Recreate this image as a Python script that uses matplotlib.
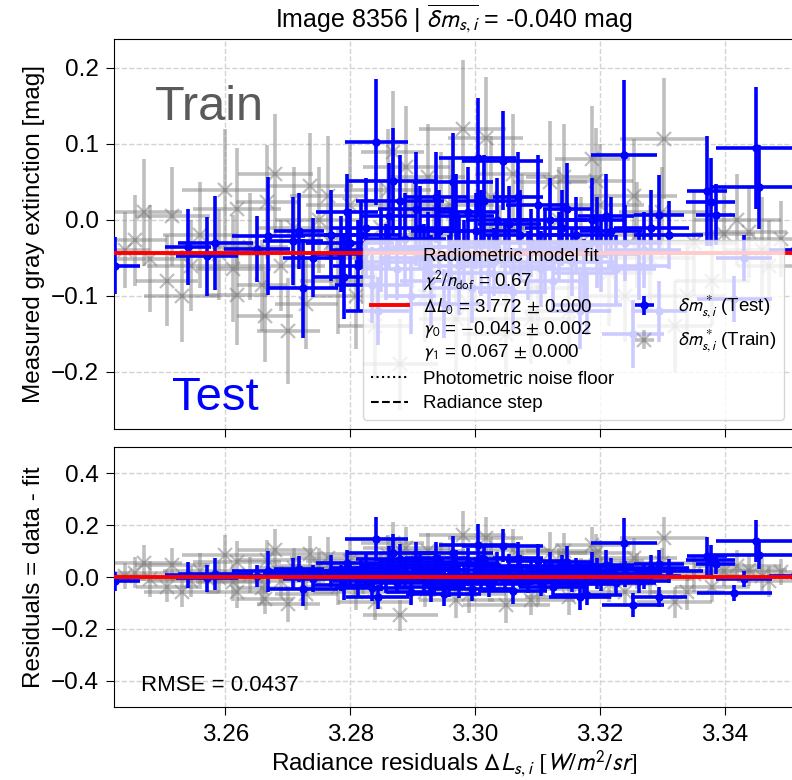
import numpy as np
import matplotlib
matplotlib.use("Agg")
import matplotlib.pyplot as plt
from matplotlib.lines import Line2D

plt.rcParams['font.family'] = ['Liberation Sans', 'DejaVu Sans']
plt.rcParams['mathtext.fontset'] = 'stixsans'
plt.rcParams['font.size'] = 17.5

# fit parameters
dL0 = 3.772
gamma0 = -0.043
gamma1 = 0.067

# test stars: radiance, extinction, x error, y error
test_x = [3.2423, 3.2541, 3.2571, 3.2584, 3.2651, 3.2669, 3.2725, 3.2708, 3.2718, 3.2740,
          3.2842, 3.2869, 3.2965, 3.3004, 3.3044, 3.3238, 3.3450, 3.3455, 3.3372, 3.3377,
          3.3385, 3.3295, 3.3510,
          3.2770, 3.2785, 3.2790, 3.2800, 3.2812, 3.2825, 3.2835, 3.2844, 3.2850, 3.2862,
          3.2875, 3.2888, 3.2898, 3.2905, 3.2918, 3.2930, 3.2942, 3.2950, 3.2962, 3.2975,
          3.2988, 3.2995, 3.3010, 3.3022, 3.3035, 3.3048, 3.3060, 3.3072, 3.3085, 3.3100,
          3.3112, 3.3125, 3.3140, 3.3155, 3.3168, 3.3180, 3.3195, 3.3210, 3.3225, 3.3253,
          3.3270, 3.3294, 3.3310, 3.3415, 3.3430,
          3.2795, 3.2818, 3.2858, 3.2880, 3.2912, 3.2925, 3.2938, 3.2958, 3.2970, 3.2982,
          3.3002, 3.3015, 3.3030, 3.3055, 3.3068, 3.3090, 3.3105, 3.3120, 3.3135, 3.3148,
          3.3162, 3.3175, 3.3188, 3.3202, 3.3218, 3.3240, 3.3262, 3.3282]
test_y = [-0.060, -0.035, -0.048, -0.030, -0.038, -0.021, -0.090, -0.028, -0.014, -0.050,
          0.103, 0.051, 0.050, 0.082, 0.078, 0.086, 0.095, 0.043, 0.038, 0.024,
          0.007, 0.007, -0.040,
          -0.020, -0.045, -0.075, -0.030, -0.060, -0.010, -0.085, -0.120, -0.040, 0.005,
          -0.065, -0.025, -0.100, 0.015, -0.050, -0.080, -0.015, -0.110, -0.035, -0.060,
          0.010, -0.090, -0.030, -0.070, 0.000, -0.045, -0.095, -0.020, -0.060, 0.020,
          -0.040, -0.080, -0.010, -0.055, -0.120, -0.112, -0.030, 0.005, -0.065, -0.150,
          -0.040, -0.120, -0.020, -0.104, -0.050,
          0.010, -0.020, -0.055, 0.025, -0.010, -0.035, 0.030, -0.070, 0.005, -0.045,
          -0.015, 0.025, -0.055, -0.005, 0.030, -0.030, -0.065, 0.000, -0.035, 0.015,
          -0.020, -0.070, 0.000, -0.045, -0.015, -0.030, -0.060, -0.010]
test_xerr = [0.0040, 0.0037, 0.0050, 0.0060, 0.0053, 0.0058, 0.0056, 0.0048, 0.0040, 0.0048,
             0.0050, 0.0072, 0.0064, 0.0061, 0.0065, 0.0053, 0.0064, 0.0075, 0.0032, 0.0040,
             0.0032, 0.0040, 0.0040,
             0.0060, 0.0045, 0.0050, 0.0070, 0.0040, 0.0055, 0.0060, 0.0050, 0.0080, 0.0045,
             0.0055, 0.0065, 0.0040, 0.0060, 0.0070, 0.0050, 0.0045, 0.0060, 0.0080, 0.0055,
             0.0050, 0.0065, 0.0045, 0.0060, 0.0050, 0.0070, 0.0055, 0.0060, 0.0045, 0.0050,
             0.0065, 0.0055, 0.0060, 0.0070, 0.0050, 0.0055, 0.0060, 0.0045, 0.0065, 0.0050,
             0.0060, 0.0045, 0.0055, 0.0060, 0.0045,
             0.0050, 0.0060, 0.0050, 0.0070, 0.0050, 0.0060, 0.0050, 0.0040, 0.0060, 0.0050,
             0.0070, 0.0050, 0.0060, 0.0050, 0.0040, 0.0060, 0.0050, 0.0060, 0.0050, 0.0040,
             0.0060, 0.0050, 0.0050, 0.0060, 0.0050, 0.0060, 0.0050, 0.0060]
test_yerr = [0.037, 0.050, 0.052, 0.062, 0.043, 0.078, 0.065, 0.058, 0.050, 0.052,
             0.083, 0.070, 0.065, 0.078, 0.065, 0.098, 0.080, 0.055, 0.072, 0.058,
             0.040, 0.052, 0.040,
             0.060, 0.050, 0.055, 0.045, 0.060, 0.065, 0.050, 0.045, 0.055, 0.070,
             0.040, 0.060, 0.050, 0.075, 0.045, 0.060, 0.055, 0.045, 0.050, 0.065,
             0.060, 0.045, 0.070, 0.050, 0.055, 0.045, 0.050, 0.060, 0.045, 0.065,
             0.055, 0.040, 0.050, 0.045, 0.050, 0.040, 0.060, 0.055, 0.045, 0.045,
             0.050, 0.040, 0.045, 0.030, 0.030,
             0.050, 0.045, 0.050, 0.060, 0.055, 0.045, 0.060, 0.050, 0.055, 0.045,
             0.050, 0.060, 0.045, 0.050, 0.060, 0.045, 0.050, 0.055, 0.045, 0.060,
             0.050, 0.045, 0.055, 0.050, 0.045, 0.050, 0.045, 0.050]

# training stars
train_x = [3.2456, 3.2480, 3.2515, 3.2507, 3.2440, 3.2619, 3.2613, 3.2667, 3.2764, 3.2619,
           3.2664, 3.2701, 3.2659, 3.2980, 3.3017, 3.3302, 3.3142, 3.3188, 3.3254, 3.3439,
           3.3398, 3.2924, 3.3193, 3.2868,
           3.2545, 3.2560, 3.2590, 3.2640, 3.2690, 3.2710, 3.2730, 3.2750, 3.2780, 3.2800,
           3.2820, 3.2840, 3.2860, 3.2880, 3.2900, 3.2920, 3.2945, 3.2970, 3.3000, 3.3025,
           3.3050, 3.3075, 3.3100, 3.3120, 3.3150, 3.3170, 3.3215, 3.3240, 3.3280, 3.3320,
           3.3350, 3.3380, 3.3470, 3.3490,
           3.2470, 3.2530, 3.2600, 3.2680, 3.2735, 3.2770, 3.2810, 3.2850, 3.2890, 3.2935,
           3.2960, 3.2990, 3.3040, 3.3060, 3.3090, 3.3135, 3.3200, 3.3260, 3.3300, 3.3340,
           3.3420, 3.3460]
train_y = [-0.027, -0.051, 0.005, -0.080, -0.040, 0.014, -0.064, 0.024, 0.031, -0.099,
           -0.127, -0.146, -0.086, 0.120, 0.108, 0.107, 0.056, 0.080, 0.031, -0.016,
           -0.018, 0.056, 0.051, 0.089,
           -0.060, -0.020, -0.045, -0.035, -0.060, -0.010, -0.110, 0.000, -0.080, 0.020,
           -0.050, -0.140, 0.040, -0.190, -0.020, -0.100, 0.010, -0.130, -0.060, 0.030,
           -0.150, -0.010, -0.090, 0.050, -0.120, -0.030, -0.070, -0.100, -0.050, -0.140,
           -0.030, -0.080, -0.060, -0.025,
           0.010, -0.100, 0.040, 0.060, 0.045, -0.030, -0.100, -0.010, 0.070, -0.050,
           0.020, -0.110, -0.040, 0.060, -0.130, 0.000, 0.020, -0.020, 0.010, -0.100,
           0.000, -0.040]
train_xerr = [0.005, 0.006, 0.006, 0.005, 0.004, 0.007, 0.006, 0.005, 0.006, 0.005,
              0.0045, 0.005, 0.004, 0.007, 0.006, 0.007, 0.006, 0.006, 0.007, 0.006,
              0.005, 0.006, 0.006, 0.005,
              0.007, 0.006, 0.008, 0.006, 0.007, 0.006, 0.005, 0.007, 0.006, 0.007,
              0.006, 0.006, 0.007, 0.006, 0.007, 0.006, 0.007, 0.006, 0.007, 0.006,
              0.007, 0.006, 0.007, 0.006, 0.007, 0.006, 0.007, 0.006, 0.007, 0.006,
              0.007, 0.006, 0.005, 0.006,
              0.006, 0.006, 0.007, 0.006, 0.007, 0.006, 0.007, 0.006, 0.007, 0.006,
              0.007, 0.006, 0.007, 0.006, 0.007, 0.006, 0.007, 0.006, 0.007, 0.006,
              0.007, 0.006]
train_yerr = [0.060, 0.070, 0.065, 0.060, 0.050, 0.080, 0.070, 0.075, 0.080, 0.065,
              0.060, 0.070, 0.060, 0.090, 0.080, 0.080, 0.070, 0.070, 0.075, 0.060,
              0.060, 0.070, 0.070, 0.080,
              0.060, 0.070, 0.060, 0.070, 0.060, 0.080, 0.060, 0.070, 0.070, 0.080,
              0.060, 0.070, 0.080, 0.060, 0.070, 0.060, 0.080, 0.070, 0.060, 0.080,
              0.070, 0.070, 0.060, 0.080, 0.070, 0.060, 0.070, 0.060, 0.070, 0.060,
              0.070, 0.060, 0.060, 0.050,
              0.070, 0.060, 0.080, 0.080, 0.070, 0.060, 0.070, 0.060, 0.080, 0.070,
              0.060, 0.070, 0.060, 0.080, 0.060, 0.070, 0.080, 0.070, 0.060, 0.070,
              0.060, 0.070]

xlim = (3.2422, 3.3510)


def model(x):
    x = np.asarray(x)
    return gamma0 + gamma1 * np.clip(x - dL0, 0, None)


test_res = np.array(test_y) - model(test_x)
train_res = np.array(train_y) - model(train_x)

fig = plt.figure(figsize=(7.92, 7.80), dpi=100)
ax1 = fig.add_axes([0.144, 0.45, 0.858, 0.50])
ax2 = fig.add_axes([0.144, 0.0936, 0.858, 0.3333], sharex=ax1)

train_kw = dict(fmt='x', color='gray', alpha=0.5, elinewidth=2.6, markersize=10, mew=1.6, capsize=0)
test_kw = dict(fmt='o', color='blue', elinewidth=2.6, markersize=5, capsize=0)

h_train = ax1.errorbar(train_x, train_y, xerr=train_xerr, yerr=train_yerr, zorder=2, **train_kw)
h_test = ax1.errorbar(test_x, test_y, xerr=test_xerr, yerr=test_yerr, zorder=3, **test_kw)

xx = np.linspace(xlim[0] - 0.01, xlim[1] + 0.01, 200)
h_fit, = ax1.plot(xx, model(xx), color='red', lw=2.8, zorder=4)
h_noise = Line2D([], [], color='k', ls=':', lw=1.5)
h_step = Line2D([], [], color='k', ls='--', lw=1.5)

fit_label = ("Radiometric model fit\n"
             r"$\chi^2/n_{\rm dof}$ = 0.67" "\n"
             r"$\Delta L_0$ = 3.772 $\pm$ 0.000" "\n"
             r"$\gamma_0$ = $-$0.043 $\pm$ 0.002" "\n"
             r"$\gamma_1$ = 0.067 $\pm$ 0.000")
ax1.legend([h_fit, h_noise, h_step, h_test, h_train],
           [fit_label, "Photometric noise floor", "Radiance step",
            r"$\delta m^*_{s,i}$ (Test)", r"$\delta m^*_{s,i}$ (Train)"],
           loc='lower right', ncol=2, fontsize=13.5, labelspacing=0.4,
           columnspacing=0.6)

ax1.text(0.06, 0.825, "Train", transform=ax1.transAxes, fontsize=35, color='#5a5a5a', va='center')
ax1.text(0.085, 0.08, "Test", transform=ax1.transAxes, fontsize=34, color='blue', va='center')

ax1.set_ylim(-0.275, 0.238)
ax1.set_yticks([-0.2, -0.1, 0.0, 0.1, 0.2])
ax1.set_ylabel("Measured gray extinction [mag]")
ax1.set_title(r"Image 8356 | $\overline{\delta m_{s,i}}$ = -0.040 mag", fontsize=18, pad=8)
ax1.tick_params(labelbottom=False)

ax2.errorbar(train_x, train_res, xerr=train_xerr, yerr=train_yerr, zorder=2, **train_kw)
ax2.errorbar(test_x, test_res, xerr=test_xerr, yerr=test_yerr, zorder=3, **test_kw)
ax2.axhline(0, color='red', lw=2.8, zorder=4)
ax2.text(0.04, 0.06, "RMSE = 0.0437", transform=ax2.transAxes, fontsize=16)
ax2.set_ylim(-0.5, 0.5)
ax2.set_yticks([-0.4, -0.2, 0.0, 0.2, 0.4])
ax2.set_ylabel("Residuals = data - fit")
ax2.set_xlabel(r"Radiance residuals $\Delta L_{s,i}$ $[W/m^2/sr]$", labelpad=2)
ax2.set_xlim(*xlim)
ax2.set_xticks([3.26, 3.28, 3.30, 3.32, 3.34])

for ax in (ax1, ax2):
    ax.grid(True, ls='--', color='lightgray', lw=1)
    ax.set_axisbelow(True)
    ax.spines['right'].set_visible(False)
    ax.tick_params(axis='y', length=6, pad=5)
    ax.tick_params(axis='x', length=6, pad=6)

fig.savefig("out.png", dpi=100)
